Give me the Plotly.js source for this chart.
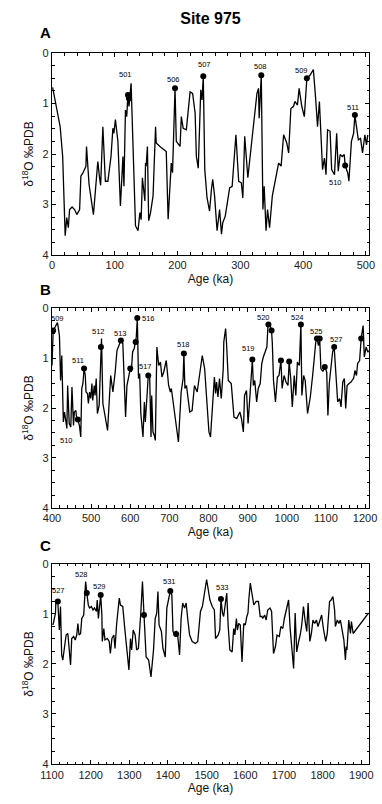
<!DOCTYPE html>
<html><head><meta charset="utf-8">
<script src="https://cdn.plot.ly/plotly-3.0.1.min.js"></script>
<style>html,body{margin:0;padding:0;background:#fff}#c{width:382px;height:804px}</style>
</head><body><div id="c"></div>
<script>
// ---------- Panel A (0-500 ka) ----------
const ageA = [1,7,13,17,21,23.5,26,28,32,36,39.5,44,46,49,52,54,55,59,66,73,76,77.5,81,85,89,94,97,98.6,101,105,109,112,113,114.6,117,119,121,122.6,126,133,137,140,142,144,146.7,148,149,150,152,154,157,161,165,166,172,182,185,190,192,196,198,204,206,209,214,220,224,228,230,233,237,239,241,243.4,247,251,254,256,259,263,267,270,272,276,283,287,293,297.4,301.6,304,307,312,319.6,326.5,329,330,333.4,336,338,341,343.4,346.6,351,356.6,361,365,369,374,377,380.5,384.7,387,391,393.7,398,402,406,411,416.4,420,423,426,430,431,434,436.5,439,443,445.5,450,453.5,456,459,462.5,465.6,467,471,473,477,480.5,482.5,485,488,491.5,494.7,498.4,501,503];
const d18A = [0.68,1.1,1.46,2.05,3.62,3.26,3.46,3.1,3.05,3.1,3.2,3.1,2.44,2.38,2.3,2.25,1.85,2.6,3.2,2.15,2.5,2.62,1.46,2.54,2.54,2.05,1.49,1.59,1.32,1.75,3.03,2.44,2.05,2.64,1.13,1.26,0.83,1.06,0.6,3.42,3.52,3.16,3.3,2.47,2.77,2.93,2.18,2.24,1.85,3.32,3.16,2.83,1.46,1.78,1.85,1.95,3.29,2.18,2.37,0.70,1.75,1.85,1.26,1.49,1.52,0.77,0.8,1.19,2.05,2.28,0.73,0.93,0.46,2.31,2.87,3.13,2.7,2.5,2.83,3.52,3.1,3.59,3.36,3.23,2.67,2.64,1.62,2.54,2.57,2.87,1.65,2.47,1.59,0.8,0.7,1.29,0.44,3.1,2.64,3.52,3.1,3.46,2.83,2.44,2.18,2.24,1.62,1.78,1.98,1.1,1.06,0.96,1.03,0.70,1.06,1.26,0.5,0.44,0.33,0.9,1.46,0.96,2.05,2.31,2.08,2.41,1.52,1.55,2.31,2.41,1.59,2.34,2.01,2.05,2.01,2.23,2.37,2.54,1.75,1.59,1.23,1.46,1.72,1.69,1.98,1.62,1.82,1.62];
const markAgeA = [121,122.6,196,241,333.4,406,467,482.5];
const markD18A = [0.83,0.9,0.70,0.46,0.44,0.5,2.23,1.23];
const labelTextA = ['501','506','507','508','509','510','511'];
const labelAgeA = [117,193,243,332,398,452,480];
const labelD18A = [0.42,0.52,0.22,0.26,0.34,2.56,1.07];

// ---------- Panel B (400-1210 ka) ----------
const ageB = [400,403,408,414,419,422,425,427,429,432,434,438,440,444,448,451,455,457,461,463,466,470,473.5,476,479,482,485,487,490.6,493,496,499,502,504,508,510,513,516,520.5,525,526.5,530,536,542,550,555.6,561.5,566,571,576,581,584.6,588,591.5,596.6,600,602.6,606,610,613.7,615.4,618,621,624,627,632.5,636,638.5,643,646,649.6,653,654.7,658,661.5,664,668,672.6,677,681,685.5,692,698,702.6,705,711,723,730,735,737,739.6,743.6,752,758,764,771,776,784,790,797,801,805,808,812,815,818,820.5,824,828,832.5,837.6,839,843.6,846,850.5,858,865,872,880,884,889,892,897,901,903.5,908,912,914.5,918,923,927,932,936,940,944.5,949,952,957,961,963,966,971,976,980,985,988,993,998,1003,1006,1010,1014,1019,1023,1027,1032,1036,1038.5,1043,1047,1053,1060,1066,1070,1074,1077,1081,1084,1087,1092,1097,1102,1105,1108.5,1113,1117,1121,1126,1130,1135,1138.5,1143,1147,1150.5,1154,1159,1164,1171,1174,1178,1181,1186,1190,1195,1198,1202.6,1207,1209.5];
const d18B = [1.15,0.45,0.38,0.29,0.55,1.45,0.95,1.95,2.28,2.08,2.21,2.41,1.55,2.31,2.38,1.58,2.35,2.08,2.05,2.21,2.23,2.35,2.58,1.61,1.51,1.21,1.35,1.68,1.71,1.91,1.68,1.81,1.51,1.85,1.55,1.75,1.41,2.11,1.95,0.78,0.61,1.91,2.18,2.45,1.35,1.68,1.28,0.85,0.75,0.65,0.71,1.48,2.18,1.55,1.35,1.21,1.28,0.88,0.81,0.68,0.58,0.2,1.41,1.31,2.11,2.58,1.88,2.28,1.75,1.35,1.38,2.58,1.75,2.48,2.55,2.65,0.78,1.15,1.08,1.38,1.28,1.05,1.55,1.68,1.61,1.95,2.68,1.68,1.41,0.91,1.61,1.55,2.08,2.05,1.55,1.68,1.35,0.95,1.21,2.18,2.48,2.58,2.15,1.55,1.38,1.71,1.48,1.78,1.41,1.81,1.21,0.68,0.41,0.71,1.45,1.51,2.18,2.21,2.08,2.21,2.48,1.75,1.65,2.31,2.01,1.55,1.03,1.55,1.45,1.88,1.61,1.51,1.11,0.98,0.88,0.78,0.33,0.33,0.45,0.71,1.45,1.88,1.38,1.35,1.05,1.61,1.35,1.48,1.55,1.07,1.41,1.98,1.35,1.75,1.08,1.15,0.33,1.75,1.35,1.45,2.11,1.78,1.35,0.95,0.68,0.61,0.75,0.61,1.21,1.27,1.18,1.28,2.15,1.51,1.11,0.88,0.78,1.35,1.88,1.81,1.98,1.48,1.41,2.01,1.55,1.51,1.48,1.4,1.25,1.35,1.11,1.05,0.61,0.35,0.98,0.78,0.88,0.85];
const markAgeB = [403,466,482,525,576,600,613.7,618,646,737,912,953,961,985,1006,1036,1077,1084,1097,1121,1190];
const markD18B = [0.45,2.23,1.21,0.78,0.65,1.21,0.68,0.2,1.35,0.91,1.03,0.33,0.45,1.05,1.07,0.33,0.61,0.61,1.18,0.78,0.61];
const labelTextB = ['509','510','511','512','513','516','517','518','519','520','524','525','527'];
const labelAgeB = [414,436,466,519,576,647,638,737,903,940,1027,1077,1126];
const labelD18B = [0.2,2.65,1.05,0.47,0.51,0.2,1.17,0.73,0.81,0.18,0.18,0.47,0.63];

// ---------- Panel C (1100-1920 ka) ----------
const ageC = [1102,1104,1109,1110,1115,1117,1119,1122,1125,1128,1132,1136.5,1141,1145,1148,1151,1156,1160,1164,1167,1170,1174,1177,1182,1184,1187,1190,1194,1197,1202,1206,1210,1215,1217,1220,1223,1226,1229,1230,1234,1237,1243,1248,1251,1255,1260,1263,1267,1270,1274,1277,1283,1289,1295,1299,1303,1306,1310,1315,1319,1323.5,1330,1334,1338,1343.5,1350,1356,1362.6,1367,1371,1374,1377,1383,1387,1393,1397,1402,1406,1410,1413,1416.5,1421,1425,1430,1434,1438,1443,1447,1451,1456,1462.6,1471,1477,1481,1484,1489,1493,1500,1508.5,1514.5,1520,1523,1530,1534,1537,1541,1544,1549,1552,1555.6,1560,1566,1570,1573,1577,1579.5,1583,1587,1591.5,1596,1600,1604,1607,1609,1613,1617,1622,1628,1634,1638.5,1643,1645,1650,1654,1658,1664,1668,1673,1678,1682,1688,1692,1697,1701,1708,1712,1716,1720,1725,1729,1733,1738,1742,1746,1750.5,1755,1759,1762.5,1767,1771,1775,1779.6,1784,1788,1792,1797.5,1802,1808,1812,1818,1822,1826.6,1831,1833,1838,1842,1846,1850.5,1855,1859,1861,1863,1867.6,1872,1874.5,1879,1919];
const d18C = [1.22,1.17,0.98,0.75,0.75,0.95,1.32,0.85,1.82,1.92,1.69,1.42,1.39,1.69,2.02,1.49,1.45,1.52,1.42,1.19,1.42,1.39,1.09,1.02,0.72,0.35,0.58,0.82,0.88,0.85,0.92,0.88,0.95,0.72,1.09,0.75,0.62,1.02,1.55,1.29,1.52,1.49,1.55,1.79,1.49,1.42,1.69,1.22,0.95,0.68,0.82,0.85,1.35,1.76,2.12,1.49,1.72,1.32,1.42,1.72,1.69,0.95,0.35,1.02,1.86,1.92,2.26,1.72,1.09,0.98,0.55,1.22,1.35,1.69,1.86,0.88,0.72,0.54,0.62,1.35,1.39,1.35,1.42,1.82,1.09,0.78,0.88,0.78,1.09,1.42,1.55,1.59,1.55,1.19,0.95,0.85,0.65,0.31,0.72,0.85,0.92,1.49,1.42,1.32,0.70,0.98,1.05,0.75,0.58,1.22,1.72,1.76,1.29,1.42,1.09,1.32,1.19,1.22,1.96,1.19,1.22,1.05,0.98,0.72,0.38,0.58,0.82,0.75,0.75,1.05,1.05,1.09,1.02,1.12,0.92,0.88,0.95,1.79,1.65,1.42,1.45,1.25,1.29,1.09,0.88,0.72,1.29,1.72,2.09,0.98,1.76,1.55,1.42,1.22,0.85,1.15,1.35,0.78,1.55,1.39,1.12,1.19,1.12,1.25,1.15,1.02,1.29,1.55,1.39,0.75,0.72,0.65,0.92,1.25,1.12,1.19,1.12,1.35,1.52,1.92,1.65,1.72,1.12,1.39,1.15,1.39,0.98];
const markAgeC = [1115,1190,1226,1338,1406,1421,1537];
const markD18C = [0.75,0.58,0.62,1.02,0.54,1.40,0.70];
const labelTextC = ['527','528','529','531','533'];
const labelAgeC = [1116,1177,1222,1404,1540];
const labelD18C = [0.54,0.22,0.46,0.36,0.48];

const FONT = 'Liberation Sans, Arial, Helvetica, sans-serif';
const panels = [
  {age: ageA, d: d18A, ma: markAgeA, md: markD18A, lt: labelTextA, la: labelAgeA, ld: labelD18A, range: [0, 505], dom: [0.7159, 1], title: 'A', ty: 1.0295},
  {age: ageB, d: d18B, ma: markAgeB, md: markD18B, lt: labelTextB, la: labelAgeB, ld: labelD18B, range: [400, 1210], dom: [0.3601, 0.6413], title: 'B', ty: 0.6667},
  {age: ageC, d: d18C, ma: markAgeC, md: markD18C, lt: labelTextC, la: labelAgeC, ld: labelD18C, range: [1100, 1920], dom: [0, 0.2813], title: 'C', ty: 0.308}
];

const traces = [];
const annotations = [];
const layout = {
  width: 382, height: 804,
  margin: {l: 52, r: 13, t: 53, b: 40},
  paper_bgcolor: '#fff', plot_bgcolor: '#fff',
  showlegend: false,
  font: {family: FONT, color: '#111'},
  title: {text: '<b>Site 975</b>', x: 0.5, xref: 'paper', y: 1 - 18/804, yref: 'container', yanchor: 'middle', xanchor: 'center', font: {size: 16, family: FONT, color: '#000'}},
  annotations: annotations
};

panels.forEach((p, i) => {
  const n = i === 0 ? '' : String(i + 1);
  const xa = 'x' + n, ya = 'y' + n;
  traces.push({x: p.age, y: p.d, xaxis: xa, yaxis: ya, type: 'scatter', mode: 'lines',
    line: {color: '#000', width: 1.3}, hoverinfo: 'skip'});
  traces.push({x: p.ma, y: p.md, xaxis: xa, yaxis: ya, type: 'scatter', mode: 'markers',
    marker: {color: '#000', size: 6}, hoverinfo: 'skip'});
  p.lt.forEach((t, k) => {
    annotations.push({x: p.la[k], y: p.ld[k], xref: xa, yref: ya, text: t, showarrow: false,
      font: {size: 7.5, family: FONT, color: '#000'}});
  });
  annotations.push({x: -0.022, y: p.ty, xref: 'paper', yref: 'paper', text: '<b>' + p.title + '</b>',
    showarrow: false, xanchor: 'center', yanchor: 'middle', font: {size: 15, family: FONT, color: '#000'}});
  layout['xaxis' + n] = {
    domain: [0, 1], anchor: ya, range: p.range, dtick: 100, tick0: 0,
    ticks: 'inside', ticklen: 4, tickwidth: 1, tickcolor: '#000',
    minor: {dtick: 20, ticks: 'inside', ticklen: 2.5, tickcolor: '#000', showgrid: false},
    showline: true, linecolor: '#000', linewidth: 1.3, mirror: 'ticks',
    showgrid: false, zeroline: false,
    tickfont: {size: 11, family: FONT, color: '#222'},
    title: {text: 'Age (ka)', standoff: 4, font: {size: 12, family: FONT, color: '#111'}}
  };
  layout['yaxis' + n] = {
    domain: p.dom, anchor: xa, range: [4, 0], dtick: 1, tick0: 0,
    ticks: 'inside', ticklen: 4, tickwidth: 1, tickcolor: '#000',
    minor: {dtick: 0.25, ticks: 'inside', ticklen: 2.5, tickcolor: '#000', showgrid: false},
    showline: true, linecolor: '#000', linewidth: 1.3, mirror: 'ticks',
    showgrid: false, zeroline: false,
    tickfont: {size: 11, family: FONT, color: '#222'},
    title: {text: 'δ<sup>18</sup>O ‰PDB', standoff: 6, font: {size: 12, family: FONT, color: '#111'}}
  };
});

Plotly.newPlot('c', traces, layout, {staticPlot: true, displayModeBar: false});
</script></body></html>
